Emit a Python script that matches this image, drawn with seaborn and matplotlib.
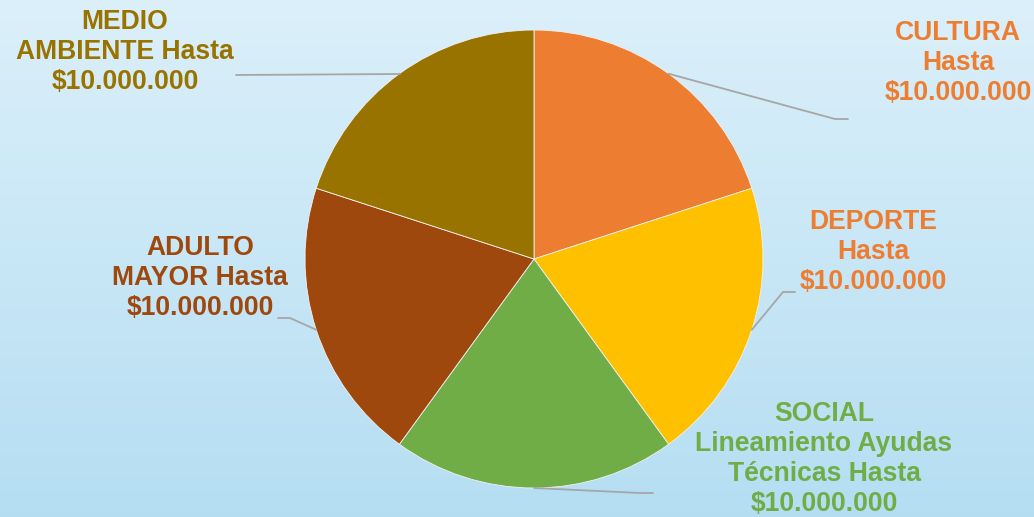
import numpy as np
import matplotlib
matplotlib.use("Agg")
import matplotlib.pyplot as plt
import seaborn as sns

sns.set_theme(style="white")
plt.rcParams['font.family'] = ['Liberation Sans', 'DejaVu Sans']

# data
categories = ["CULTURA", "DEPORTE", "SOCIAL", "ADULTO MAYOR", "MEDIO AMBIENTE"]
values = [10000000, 10000000, 10000000, 10000000, 10000000]
labels = [
    "CULTURA\nHasta\n$10.000.000",
    "DEPORTE\nHasta\n$10.000.000",
    "SOCIAL\nLineamiento Ayudas\nTécnicas Hasta\n$10.000.000",
    "ADULTO\nMAYOR Hasta\n$10.000.000",
    "MEDIO\nAMBIENTE Hasta\n$10.000.000",
]
slice_colors = ["#ED7D31", "#FFC000", "#70AD47", "#9E480E", "#997300"]
label_colors = ["#ED7D31", "#ED7D31", "#70AD47", "#9E480E", "#997300"]

W, H = 1034, 517
fig = plt.figure(figsize=(W / 100, H / 100), dpi=100)
ax = fig.add_axes([0, 0, 1, 1])

# background gradient
grad = np.linspace(0, 1, 256).reshape(-1, 1)
top = np.array([0.86, 0.94, 0.98])
bot = np.array([0.71, 0.87, 0.95])
img = top + (bot - top) * grad[:, :, None]
ax.imshow(img, extent=[0, W, 0, H], aspect="auto", zorder=0)

cx, cy, r = 534, H - 259, 229
wedges, _ = ax.pie(values, colors=slice_colors, startangle=90, counterclock=False,
                   center=(cx, cy), radius=r, frame=True,
                   wedgeprops=dict(edgecolor="#f2f2f2", linewidth=0.6))
ax.set_xlim(0, W)
ax.set_ylim(0, H)
ax.set_aspect("equal")
ax.axis("off")

# label layout: text centre, elbow point, line end point (pixels from top-left)
text_pos = [(958, 63), (873, 252), (824, 459), (200, 278), (125, 52)]
elbows = [(835, 119), (783, 292), (640, 493), (290, 318), (400, 74)]
ends = [(848, 119), (795, 292), (653, 493), (278, 318), (236, 75)]

for w, lab, col, tp, el, en in zip(wedges, labels, label_colors, text_pos, elbows, ends):
    ang = np.deg2rad((w.theta1 + w.theta2) / 2)
    sx, sy = cx + r * np.cos(ang), cy + r * np.sin(ang)
    ax.plot([sx, el[0], en[0]], [sy, H - el[1], H - en[1]], color="#A6A6A6",
            lw=1.3, zorder=1)
    ax.text(tp[0], H - tp[1], lab, color=col, fontsize=19.1, fontweight="bold",
            ha="center", va="center", linespacing=1.2, zorder=3)

fig.savefig("out.png", dpi=100)
